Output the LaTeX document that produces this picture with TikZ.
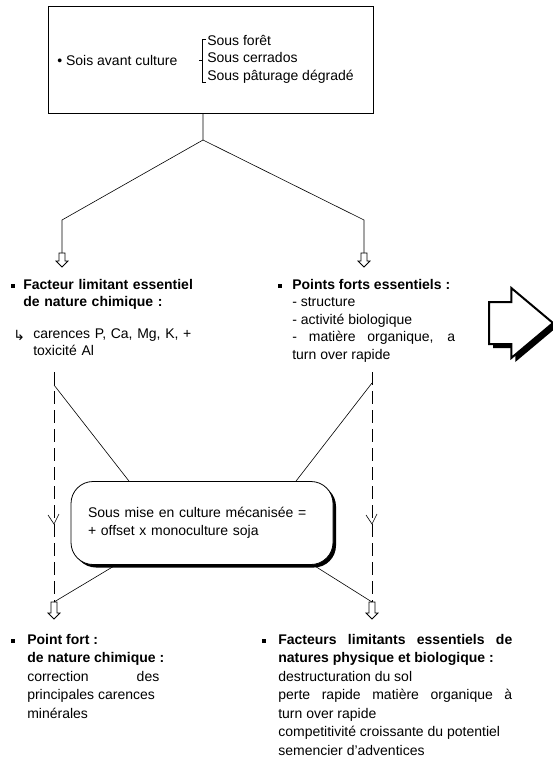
\documentclass[tikz,border=0pt]{standalone}
\usepackage{fontspec}
\setmainfont{Liberation Sans}
\newfontfamily\symfont{DejaVu Sans}
\usetikzlibrary{shapes.arrows,shadows}
\newcommand{\holarrow}[4]{\coordinate (#1) at (#2,#3);
	\draw[line width=0.8pt,fill=white] (#1) ++(-3,0) -- ++(0,#4) -- ++(-3,0) -- ++(6,6) -- ++(6,-6) -- ++(-3,0) -- ++(0,-#4) -- cycle;}
\begin{document}
\begin{tikzpicture}[x=1pt,y=-1pt,font=\fontsize{14}{17.5}\selectfont,line width=0.6pt]
	\tikzstyle{txt} = [inner sep=0pt,anchor=north west,align=left]
	\tikzstyle{bul} = [fill=black,minimum size=4pt,inner sep=0pt]
	\useasboundingbox (0,0) rectangle (552,762);

		\node[draw,minimum width=325pt,minimum height=107pt,inner sep=0pt] (sols) at (210.5,59.5){};
		\node[inner sep=0pt,anchor=west] (avant) at (57,60){• Sois avant culture};
		\node[txt] (sous) at (207,35){Sous forêt\\Sous cerrados\\Sous pâturage dégradé};
		\draw (206,39) -- (202.5,39) -- (202.5,82) -- (206,82);
		\draw (199,60) -- (202.5,60);

		\coordinate (fork) at (203,140);
		\coordinate (kl) at (62,220);
		\coordinate (kr) at (364,220);
		\holarrow{aL}{62}{253}{8}
		\holarrow{aR}{364}{253}{8}
		\draw (sols.south -| fork) -- (fork) -- (kl) -- (aL);
		\draw (fork) -- (kr) -- (aR);

		\node[bul] (b1) at (13,286){};
		\node[txt,text width=190pt,font=\fontsize{14}{17.5}\selectfont\bfseries] (ltop) at (23,279){Facteur limitant essentiel\\de nature chimique :};
		\node[inner sep=0pt,anchor=west,font=\symfont\fontsize{14}{15}\selectfont] (main) at (13,335){↳};
		\node[txt,text width=170pt] (car) at (33,328){carences P, Ca, Mg, K, +\\toxicité Al};

		\node[bul] (b2) at (280,286){};
		\node[txt,text width=163pt,align=justify] (rtop) at (292,279){\textbf{Points forts essentiels :}\\- structure\\- activité biologique\\- matière organique, a\linebreak turn over rapide};

		\node[single arrow,draw,fill=white,line width=2pt,anchor=tail,minimum height=64pt,minimum width=68pt,single arrow head extend=14pt,single arrow tip angle=80,inner xsep=0pt,inner ysep=20pt,drop shadow={shadow xshift=4pt,shadow yshift=-4pt,fill=black,opacity=1}] (big) at (488,323){};

		\node[draw,line width=0.8pt,rounded corners=22pt,fill=white,minimum width=262pt,minimum height=83pt,text width=228pt,align=left,drop shadow={shadow xshift=3pt,shadow yshift=-3pt,fill=black,opacity=1}] (mise) at (202,523){Sous mise en culture mécanisée =\\+ offset x monoculture soja};

		\coordinate (sl) at (54,372);
		\coordinate (sr) at (372,372);
		\holarrow{bL}{54}{602}{11}
		\holarrow{bR}{372}{602}{11}
		\draw[dash pattern=on 13pt off 6pt] (sl) -- (bL);
		\draw[dash pattern=on 13pt off 6pt] (sr) -- (bR);
		\draw (48,515) -- (54,524) -- (59,514);
		\draw (366,515) -- (372,524) -- (377,514);
		\draw[line width=1pt] (54,524) -- (54,533);
		\draw[line width=1pt] (372,524) -- (372,533);

		\draw ([yshift=-13pt]sl) -- ([xshift=-73pt]mise.north);
		\draw ([yshift=-11pt]sr) -- ([xshift=94pt]mise.north);
		\draw ([xshift=-86pt]mise.south) -- (bL);
		\draw ([xshift=111pt]mise.south) -- (bR);

		\node[bul] (b3) at (13,641){};
		\node[txt,text width=132pt,align=justify,font=\fontsize{14}{18.5}\selectfont] (lbot) at (27,634){\textbf{Point fort :}\\\mbox{\textbf{de nature chimique :}}\\correction des\linebreak principales carences\\minérales};

		\node[bul] (b4) at (264,641){};
		\node[txt,text width=234pt,align=justify,font=\fontsize{14}{18.5}\selectfont] (rbot) at (278,634){\textbf{Facteurs limitants essentiels de\linebreak natures physique et biologique :}\\destructuration du sol\\perte rapide matière organique à\linebreak turn over rapide\\competitivité croissante du potentiel\\semencier d'adventices};
\end{tikzpicture}
\end{document}
